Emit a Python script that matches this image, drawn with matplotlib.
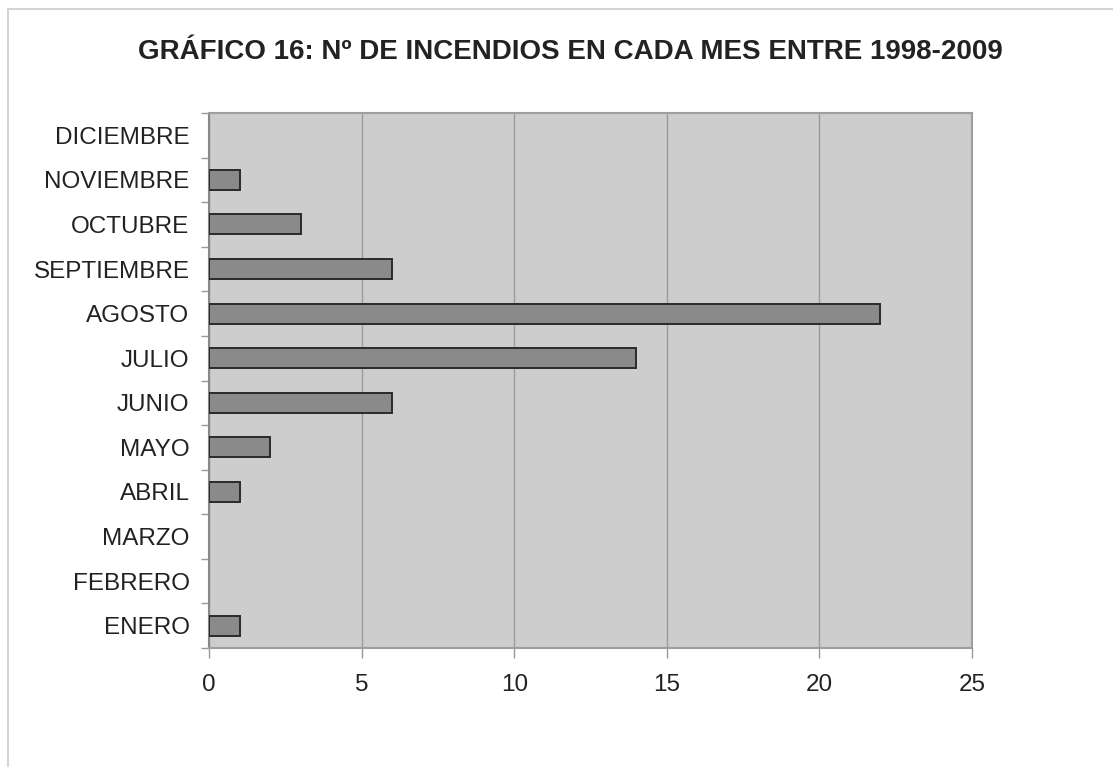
import matplotlib
matplotlib.use('Agg')
import matplotlib.pyplot as plt
from matplotlib.patches import Rectangle

# Data: number of fires per month (1998-2009)
months = ['ENERO', 'FEBRERO', 'MARZO', 'ABRIL', 'MAYO', 'JUNIO',
          'JULIO', 'AGOSTO', 'SEPTIEMBRE', 'OCTUBRE', 'NOVIEMBRE', 'DICIEMBRE']
fires = [1, 0, 0, 1, 2, 6, 14, 22, 6, 3, 1, 0]
x_ticks = [0, 5, 10, 15, 20, 25]

plt.rcParams.update({'font.family': ['Liberation Sans', 'DejaVu Sans']})

fig = plt.figure(figsize=(11.13, 7.67), dpi=100)

# light outer frame (left and top visible, rest runs off the page)
fig.patches.append(Rectangle((8 / 1113, -0.1), 1.2, 1.1 - 9 / 767,
                             transform=fig.transFigure, fill=False,
                             edgecolor='#d4d4d4', linewidth=1.5))

ax = fig.add_axes([209 / 1113, 1 - 648 / 767, 763 / 1113, 535 / 767])
ax.set_facecolor('#cdcdcd')

# Excel leaves zero-valued bars invisible
ypos = list(range(len(months)))
bar_y = [y for y, v in zip(ypos, fires) if v > 0]
bar_v = [v for v in fires if v > 0]
ax.barh(bar_y, bar_v, height=0.45, color='#8a8a8a', edgecolor='#2a2a2a',
        linewidth=1.4, zorder=3)

ax.set_xlim(0, 25)
ax.set_ylim(-0.5, len(months) - 0.5)

ax.set_xticks(x_ticks)
ax.set_xticklabels([str(t) for t in x_ticks], fontsize=17.5, color='#222222')
ax.set_yticks(ypos)
ax.set_yticklabels(months, fontsize=17.5, color='#222222')
ax.set_yticks([y - 0.5 for y in range(len(months) + 1)], minor=True)

ax.tick_params(axis='y', which='major', length=0, pad=14)
ax.tick_params(axis='y', which='minor', length=6, color='#999999', width=1)
ax.tick_params(axis='x', length=7, color='#999999', width=1, pad=12)

ax.grid(True, axis='x', color='#9a9a9a', linewidth=1, zorder=1)
ax.set_axisbelow(True)

for side in ['top', 'right', 'bottom']:
    ax.spines[side].set_color('#9e9e9e')
    ax.spines[side].set_linewidth(1.5)
ax.spines['left'].set_color('#888888')
ax.spines['left'].set_linewidth(1.5)

fig.text(570 / 1113, 1 - 52 / 767,
         'GRÁFICO 16: Nº DE INCENDIOS EN CADA MES ENTRE 1998-2009',
         ha='center', va='center', fontsize=20, fontweight='bold',
         color='#222222')

fig.savefig('out.png', dpi=100)
